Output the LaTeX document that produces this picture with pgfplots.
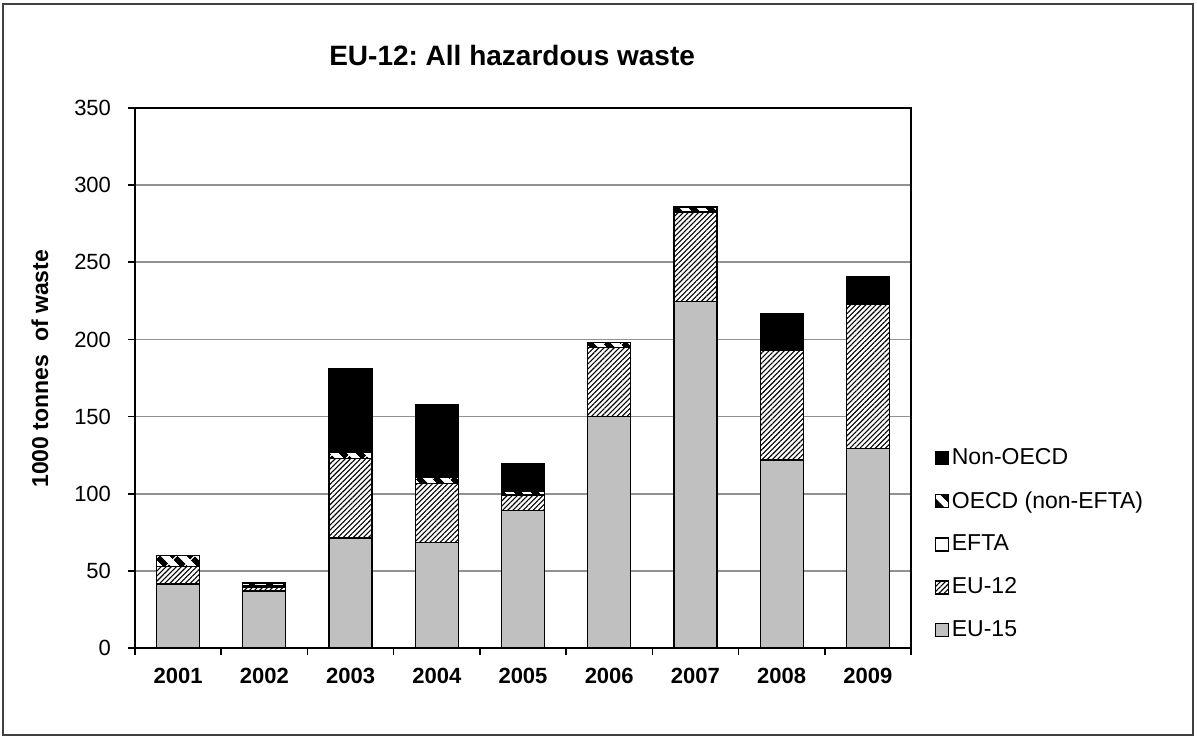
\documentclass[border=0pt]{standalone}
\usepackage{pgfplots}
\pgfplotsset{compat=1.18}
\usepackage{pgfplotstable}
\usepackage{fontspec}
\setmainfont{Liberation Sans}
\usetikzlibrary{patterns.meta}
\frenchspacing

\pgfplotstableread{
x eufifteen eutwelve efta oecd nonoecd
0 41.5 11.2 0 7.4 0
1 37 2.5 0.8 1.8 0.3
2 71.3 51.4 0 4.1 54.2
3 68.5 38.2 0 3.9 47.3
4 89 10.2 0 2.5 17.5
5 149.9 44.7 0 3.3 0
6 224.7 57.9 0 3.2 0
7 121.8 70.9 0 0 24
8 129.4 93.1 0 0 18
}\wastedata

\definecolor{eugray}{RGB}{192,192,192}
\definecolor{gridgray}{RGB}{145,145,145}

\begin{document}
\begin{tikzpicture}
\begin{axis}[
  at={(0,0)}, anchor=south west,
  width=388bp, height=270bp, scale only axis=true,
  ybar stacked, bar width=21.5bp,
  xmin=-0.5, xmax=8.5, ymin=0, ymax=350,
  ytick={0,50,...,350},
  xtick={0,...,8},
  xticklabels={2001,2002,2003,2004,2005,2006,2007,2008,2009},
  minor xtick={-0.5,0.5,...,8.5},
  xtick pos=bottom, ytick pos=left,
  major x tick style={draw=none},
  minor x tick style={black, line width=0.8bp},
  minor tick length=3.5bp,
  major tick length=3.5bp,
  tick align=outside,
  ytick style={black, line width=0.8bp},
  ymajorgrids=true,
  grid style={gridgray, line width=0.8bp},
  axis line style={black, line width=1.3bp},
  /pgf/number format/assume math mode=true,
  tick label style={font=\fontsize{11bp}{13bp}\selectfont},
  yticklabel style={xshift=-5bp},
  xticklabel style={font=\fontsize{11bp}{13bp}\selectfont\bfseries, yshift=-3bp},
  ylabel={1000 tonnes\ \ of waste},
  ylabel style={font=\fontsize{11.5bp}{13bp}\selectfont\bfseries, at={(axis description cs:-0.1224,0.517)}, anchor=center, rotate=0},
  title={EU-12: All hazardous waste},
  title style={font=\fontsize{14bp}{16bp}\selectfont\bfseries, at={(axis description cs:0.486,1.096)}, anchor=center, yshift=-5.5bp},
  legend style={draw=none, fill=none, at={(axis description cs:1.03,0.009)}, anchor=south west,
    font=\fontsize{11.5bp}{13bp}\selectfont, row sep=9bp, inner sep=0pt,
    nodes={inner sep=1.5bp}},
  legend cell align=left,
  reverse legend,
  legend image code/.code={\draw[#1, line width=0.6bp] (0bp,-3.25bp) rectangle (6.5bp,3.25bp);},
  every axis plot/.append style={draw=black, line width=0.6bp},
]
\addplot[fill=eugray] table[x=x, y=eufifteen] {\wastedata};
\addlegendentry{EU-15}
\addplot[fill=white, postaction={pattern={Lines[angle=45,distance=1.8bp,line width=0.55bp]}, pattern color=black}] table[x=x, y=eutwelve] {\wastedata};
\addlegendentry{EU-12}
\addplot[fill=white] table[x=x, y=efta] {\wastedata};
\addlegendentry{EFTA}
\addplot[fill=white, postaction={pattern={Lines[angle=-45,distance=6bp,line width=3bp]}, pattern color=black}] table[x=x, y=oecd] {\wastedata};
\addlegendentry{OECD (non-EFTA)}
\addplot[fill=black] table[x=x, y=nonoecd] {\wastedata};
\addlegendentry{Non-OECD}
\draw[black, line width=1.3bp] (rel axis cs:0,0) rectangle (rel axis cs:1,1);
\end{axis}
\pgfresetboundingbox
\path (-67.5bp,-45bp) rectangle (531bp,324bp);
\draw[line width=0.8bp, black!75] (-66bp,-43.5bp) rectangle (529bp,322bp);
\end{tikzpicture}
\end{document}
